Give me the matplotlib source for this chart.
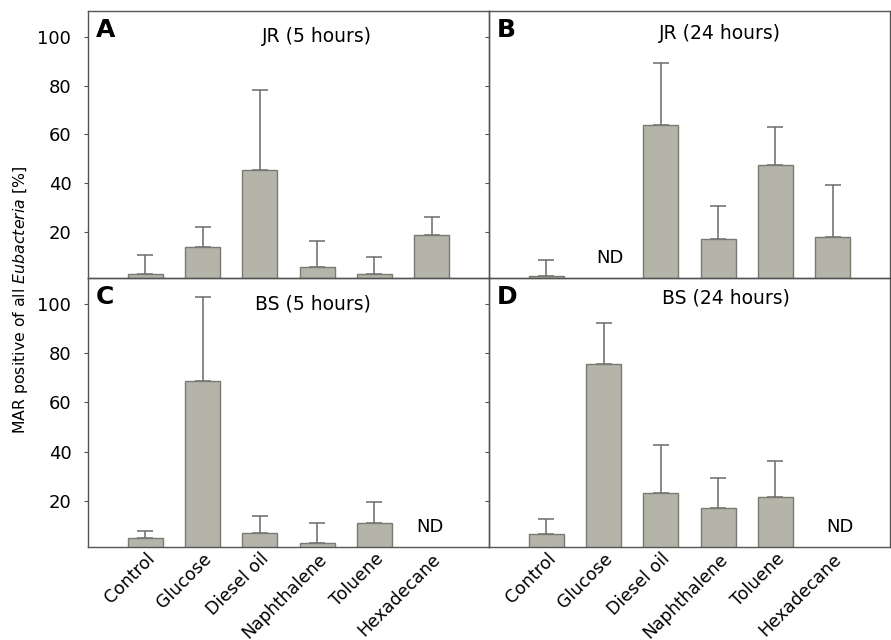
import numpy as np
import matplotlib
matplotlib.use('Agg')
import matplotlib.pyplot as plt

plt.rcParams['font.family'] = ['DejaVu Sans']

categories = ['Control', 'Glucose', 'Diesel oil', 'Naphthalene', 'Toluene', 'Hexadecane']

# mean values (None = not detected) and upper error-bar tops
jr_5h_mean = [2.7, 13.9, 45.5, 5.7, 2.9, 18.9]
jr_5h_top = [10.6, 22.2, 78.3, 16.2, 9.8, 26.3]
jr_24h_mean = [2.1, None, 63.8, 17.1, 47.6, 18.0]
jr_24h_top = [8.4, None, 89.1, 30.6, 63.1, 39.3]
bs_5h_mean = [4.7, 68.5, 6.9, 3.0, 10.9, None]
bs_5h_top = [7.9, 102.8, 13.8, 10.8, 19.6, None]
bs_24h_mean = [6.6, 75.4, 23.3, 17.1, 21.7, None]
bs_24h_top = [12.7, 92.4, 42.8, 29.3, 36.3, None]

panels = [
    ('A', 'JR (5 hours)', jr_5h_mean, jr_5h_top),
    ('B', 'JR (24 hours)', jr_24h_mean, jr_24h_top),
    ('C', 'BS (5 hours)', bs_5h_mean, bs_5h_top),
    ('D', 'BS (24 hours)', bs_24h_mean, bs_24h_top),
]
title_pos = [(0.57, 0.905), (0.576, 0.915), (0.56, 0.905), (0.59, 0.925)]
nd_shift = [0, 0.11, -0.03, 0.12]

W, H = 891, 640
fig = plt.figure(figsize=(W / 100, H / 100), dpi=100)
left, mid, right = 88, 489, 890
top, hmid, bottom = 11, 278, 547
boxes = [(left, top, mid, hmid), (mid, top, right, hmid),
         (left, hmid, mid, bottom), (mid, hmid, right, bottom)]

bar_color = '#b4b4a9'
edge_color = '#7a7a72'
spine_color = '#555555'
fs = 13

x = np.arange(len(categories))
for i, ((letter, title, mean, tops), (x0, y0, x1, y1)) in enumerate(zip(panels, boxes)):
    ax = fig.add_axes([x0 / W, 1 - y1 / H, (x1 - x0) / W, (y1 - y0) / H])
    for j, m in enumerate(mean):
        if m is None:
            ax.text(x[j] + nd_shift[i], 9.2, 'ND', ha='center', va='center', fontsize=fs)
            continue
        ax.bar(x[j], m, width=0.61, color=bar_color, edgecolor=edge_color,
               linewidth=1.0, zorder=2)
        ax.errorbar(x[j], m, yerr=[[0], [tops[j] - m]], fmt='none',
                    ecolor='#6a6a6a', elinewidth=1.1, capsize=5.5, capthick=1.1, zorder=1)
    ax.set_xlim(-1, 6)
    ax.set_ylim(1.2, 110.5)
    ax.set_yticks([20, 40, 60, 80, 100])
    ax.tick_params(axis='y', direction='out', length=3, color=spine_color,
                   labelsize=fs, pad=9)
    if i % 2 == 1:
        ax.tick_params(axis='y', labelleft=False)
    ax.set_xticks(x)
    if i >= 2:
        ax.set_xticklabels(categories, rotation=45, ha='right', va='top',
                           rotation_mode='anchor', fontsize=12.5)
    else:
        ax.set_xticklabels([])
    ax.tick_params(axis='x', length=0, pad=2)
    for s in ax.spines.values():
        s.set_color(spine_color)
        s.set_linewidth(1.0)
    ax.text(0.02, 0.93, letter, transform=ax.transAxes, fontsize=18,
            fontweight='bold', ha='left', va='center')
    tx, ty = title_pos[i]
    ax.text(tx, ty, title, transform=ax.transAxes, fontsize=13.5,
            ha='center', va='center')
    ax.set_facecolor('none')

fig.text(21 / W, 1 - 300 / H, r'MAR positive of all $\it{Eubacteria}$ [%]',
         rotation=90, ha='center', va='center', fontsize=11.3)

fig.savefig('out.png', dpi=100)
